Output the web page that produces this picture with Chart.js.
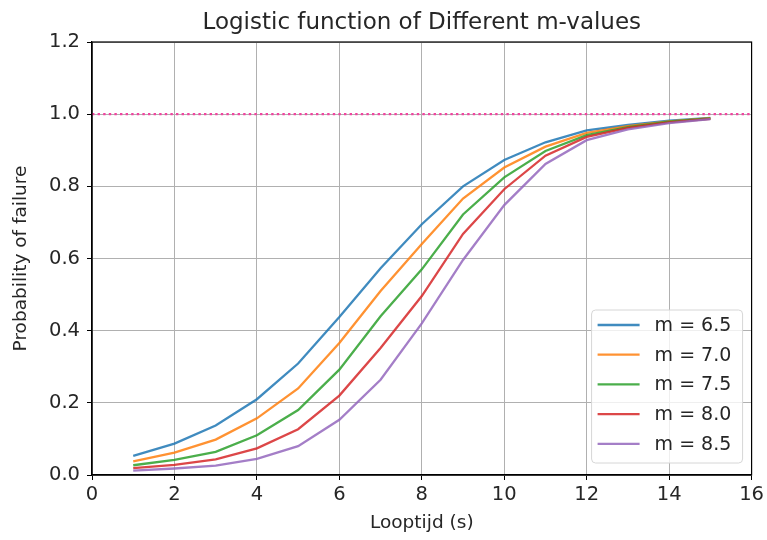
<!DOCTYPE html>
<html>
<head>
<meta charset="utf-8">
<script src="https://cdn.jsdelivr.net/npm/chart.js@4/dist/chart.umd.min.js"></script>
<style>
  html, body { margin: 0; padding: 0; background: #ffffff; }
  #wrap { width: 767px; height: 540px; }
</style>
</head>
<body>
<div id="wrap"><canvas id="c" width="767" height="540"></canvas></div>
<script>
// Looptijd (s) on the x axis
const looptijd = [1, 2, 3, 4, 5, 6, 7, 8, 9, 10, 11, 12, 13, 14, 15];

// Legend labels for each curve
const mLabels = ['m = 6.5', 'm = 7.0', 'm = 7.5', 'm = 8.0', 'm = 8.5'];

// Probability of failure per m-value
const pM65 = [0.053, 0.087, 0.137, 0.210, 0.309, 0.438, 0.573, 0.695, 0.800, 0.873, 0.922, 0.955, 0.970, 0.982, 0.990];
const pM70 = [0.038, 0.062, 0.098, 0.157, 0.240, 0.366, 0.510, 0.640, 0.766, 0.852, 0.910, 0.948, 0.967, 0.980, 0.989];
const pM75 = [0.027, 0.042, 0.064, 0.110, 0.180, 0.292, 0.440, 0.570, 0.722, 0.825, 0.898, 0.942, 0.964, 0.979, 0.988];
const pM80 = [0.019, 0.028, 0.043, 0.074, 0.127, 0.220, 0.352, 0.496, 0.668, 0.792, 0.885, 0.937, 0.962, 0.977, 0.987];
const pM85 = [0.012, 0.018, 0.026, 0.045, 0.080, 0.153, 0.264, 0.420, 0.596, 0.748, 0.862, 0.928, 0.958, 0.975, 0.986];
const seriesValues = [pM65, pM70, pM75, pM80, pM85];

// Horizontal reference level (probability 1)
const refLevel = 1.0;
const refSpan = [0, 16];

// Axis ticks
const xTicks = [0, 2, 4, 6, 8, 10, 12, 14, 16];
const yTicks = [0.0, 0.2, 0.4, 0.6, 0.8, 1.0, 1.2];

const colors = ['rgba(31,119,180,0.85)', 'rgba(255,127,14,0.85)', 'rgba(44,160,44,0.85)',
                'rgba(214,39,40,0.85)', 'rgba(148,103,189,0.85)'];
const FONT = "'DejaVu Sans', sans-serif";
const TEXT = '#262626';

const datasets = seriesValues.map((vals, i) => ({
  label: mLabels[i],
  data: looptijd.map((x, j) => ({ x: x, y: vals[j] })),
  borderColor: colors[i],
  backgroundColor: colors[i],
  borderWidth: 2.3,
  pointRadius: 0,
  tension: 0,
  fill: false,
  order: seriesValues.length - i
}));
datasets.push({
  label: 'ref',
  data: refSpan.map(x => ({ x: x, y: refLevel })),
  borderColor: '#f0449f',
  borderWidth: 2.4,
  borderDash: [2.4, 3.2],
  pointRadius: 0,
  fill: false,
  order: 0
});

// Box around the plotting area (all four spines)
const framePlugin = {
  id: 'frame',
  afterDraw(chart) {
    const a = chart.chartArea, ctx = chart.ctx;
    ctx.save();
    ctx.strokeStyle = '#000';
    ctx.lineWidth = 1.2;
    ctx.strokeRect(a.left, a.top, a.right - a.left, a.bottom - a.top);
    ctx.restore();
  }
};

// Legend box in the lower-right corner of the plotting area
const cornerLegend = {
  id: 'cornerLegend',
  afterDraw(chart) {
    const a = chart.chartArea, ctx = chart.ctx;
    const w = 151, h = 153;
    const x0 = a.right - 9 - w, y0 = a.bottom - 12 - h;
    ctx.save();
    ctx.beginPath();
    ctx.roundRect(x0, y0, w, h, 4);
    ctx.fillStyle = 'rgba(255,255,255,0.8)';
    ctx.fill();
    ctx.strokeStyle = '#d6d6d6';
    ctx.lineWidth = 1;
    ctx.stroke();
    ctx.font = '19px ' + FONT;
    ctx.textBaseline = 'middle';
    mLabels.forEach((lab, i) => {
      const yy = y0 + 15 + i * 29.7;
      ctx.beginPath();
      ctx.moveTo(x0 + 6, yy);
      ctx.lineTo(x0 + 48, yy);
      ctx.strokeStyle = colors[i];
      ctx.lineWidth = 2.3;
      ctx.stroke();
      ctx.fillStyle = TEXT;
      ctx.fillText(lab, x0 + 63, yy + 1);
    });
    ctx.restore();
  }
};

new Chart(document.getElementById('c'), {
  type: 'line',
  data: { datasets: datasets },
  plugins: [framePlugin, cornerLegend],
  options: {
    responsive: false,
    animation: false,
    layout: { padding: { left: 0, right: 13, top: 0, bottom: 0 } },
    plugins: {
      legend: { display: false },
      tooltip: { enabled: false },
      title: {
        display: true,
        fullSize: false,
        text: 'Logistic function of Different m-values',
        color: TEXT,
        font: { family: FONT, size: 23, weight: 'normal', lineHeight: 1.2 },
        padding: { top: 9, bottom: 5.4 }
      }
    },
    scales: {
      x: {
        type: 'linear',
        min: xTicks[0],
        max: xTicks[xTicks.length - 1],
        afterBuildTicks: s => { s.ticks = xTicks.map(v => ({ value: v })); },
        afterFit: s => { s.height = 65; },
        ticks: {
          color: TEXT,
          font: { family: FONT, size: 19.5 },
          padding: 3,
          maxRotation: 0,
          callback: v => String(v)
        },
        grid: { color: '#b0b0b0', lineWidth: 1, tickColor: '#000', tickLength: 5 },
        border: { color: '#000', width: 1.2 },
        title: {
          display: true,
          text: 'Looptijd (s)',
          color: TEXT,
          font: { family: FONT, size: 18.5 },
          padding: { top: 0, bottom: 6 }
        }
      },
      y: {
        type: 'linear',
        min: yTicks[0],
        max: yTicks[yTicks.length - 1],
        afterBuildTicks: s => { s.ticks = yTicks.map(v => ({ value: v })); },
        afterFit: s => { s.width = 92; },
        ticks: {
          color: TEXT,
          font: { family: FONT, size: 19.5 },
          padding: 7,
          callback: v => Number(v).toFixed(1)
        },
        grid: { color: '#b0b0b0', lineWidth: 1, tickColor: '#000', tickLength: 5 },
        border: { color: '#000', width: 1.2 },
        title: {
          display: true,
          text: 'Probability of failure',
          color: TEXT,
          font: { family: FONT, size: 18.5 },
          padding: { top: 10, bottom: 0 }
        }
      }
    }
  }
});
</script>
</body>
</html>
